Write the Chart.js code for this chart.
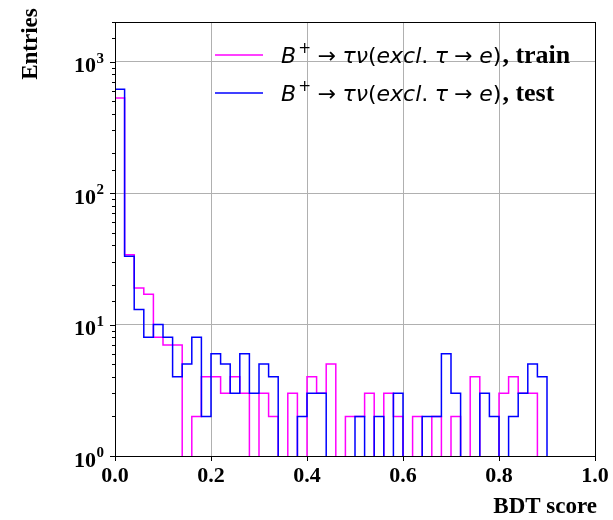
<!DOCTYPE html>
<html>
<head>
<meta charset="utf-8">
<script src="https://cdn.jsdelivr.net/npm/chart.js@4/dist/chart.umd.min.js"></script>
<style>
  html, body { margin: 0; padding: 0; background: #fff; }
  #wrap { width: 613px; height: 520px; }
</style>
</head>
<body>
<div id="wrap"><canvas id="bdtChart" width="613" height="520"></canvas></div>
<script>
// --- Data (50 bins of width 0.02) ---
const binEdges = [
  0.00, 0.02, 0.04, 0.06, 0.08, 0.10, 0.12, 0.14, 0.16, 0.18,
  0.20, 0.22, 0.24, 0.26, 0.28, 0.30, 0.32, 0.34, 0.36, 0.38,
  0.40, 0.42, 0.44, 0.46, 0.48, 0.50, 0.52, 0.54, 0.56, 0.58,
  0.60, 0.62, 0.64, 0.66, 0.68, 0.70, 0.72, 0.74, 0.76, 0.78,
  0.80, 0.82, 0.84, 0.86, 0.88, 0.90, 0.92, 0.94, 0.96, 0.98,
  1.00
];

const trainCounts = [
  528, 34, 19, 17, 8, 7, 7, 0, 2, 4,
  4, 3, 4, 3, 0, 3, 2, 0, 3, 0,
  4, 3, 5, 0, 2, 2, 3, 0, 3, 2,
  0, 2, 0, 2, 0, 2, 0, 4, 0, 0,
  3, 4, 3, 3, 0, 0, 0, 0, 0, 0
];

const testCounts = [
  615, 33, 13, 8, 10, 8, 4, 5, 8, 2,
  6, 5, 3, 6, 3, 5, 4, 0, 0, 2,
  3, 3, 0, 0, 0, 2, 0, 2, 0, 3,
  0, 0, 2, 2, 6, 3, 0, 0, 3, 2,
  0, 2, 3, 5, 4, 0, 0, 0, 0, 0
];

const xTickStep = 0.2;
const yRange = [1, 2000];
const seriesNames = ['train', 'test'];
const seriesColors = ['#ff00ff', '#0000ff'];
const xTitle = 'BDT score';
const yTitle = 'Entries';

// mathtext part of the legend label: B^+ -> tau nu (excl. tau -> e)
const processLabel = [
  { t: 'B', style: 'it' },
  { t: '+', style: 'sup', gap: 0.1 },
  { t: '\u2192', style: 'rm', gap: 0.3 },
  { t: '\u03c4\u03bd', style: 'it', gap: 0.28 },
  { t: '(', style: 'rm' },
  { t: 'excl', style: 'it' },
  { t: '.', style: 'rm' },
  { t: '\u03c4', style: 'it', gap: 0.3 },
  { t: '\u2192', style: 'rm', gap: 0.28 },
  { t: 'e', style: 'it', gap: 0.3 },
  { t: ')', style: 'rm' }
];

const SERIF = '"Liberation Serif", "Times New Roman", serif';
const MATH_FONT = '"DejaVu Sans"';

// zero-count bins are pushed below the log axis so clipping hides them (as in matplotlib)
const BELOW_AXIS = 0.1;

function stepPoints(counts) {
  const pts = [{ x: binEdges[0], y: BELOW_AXIS }];
  counts.forEach((c, i) => pts.push({ x: binEdges[i], y: c > 0 ? c : BELOW_AXIS }));
  pts.push({ x: binEdges[binEdges.length - 1], y: BELOW_AXIS });
  return pts;
}

const isDecade = v => Math.abs(Math.log10(v) - Math.round(Math.log10(v))) < 1e-9;

// Axis frame, y ticks with superscripts, axis titles and the legend
const mplDecor = {
  id: 'mplDecor',
  afterDatasetsDraw(chart) {
    const { ctx, chartArea: a, scales: { y } } = chart;
    ctx.save();

    // spines
    ctx.strokeStyle = '#000';
    ctx.lineWidth = 1;
    ctx.strokeRect(Math.round(a.left) + 0.5, Math.round(a.top) + 0.5,
      Math.round(a.right - a.left), Math.round(a.bottom - a.top));

    // y ticks: major + minor, outward
    y.ticks.forEach(t => {
      const py = Math.round(y.getPixelForValue(t.value)) + 0.5;
      const len = isDecade(t.value) ? 5 : 3;
      ctx.beginPath();
      ctx.moveTo(a.left, py);
      ctx.lineTo(a.left - len, py);
      ctx.stroke();
    });

    // y tick labels 10^n
    ctx.fillStyle = '#000';
    ctx.textAlign = 'right';
    ctx.textBaseline = 'alphabetic';
    y.ticks.filter(t => isDecade(t.value)).forEach(t => {
      const py = y.getPixelForValue(t.value);
      const exp = String(Math.round(Math.log10(t.value)));
      const xr = a.left - 11;
      ctx.font = `bold 15px ${SERIF}`;
      ctx.fillText(exp, xr, py + 1);
      const ew = ctx.measureText(exp).width;
      ctx.font = `bold 22px ${SERIF}`;
      ctx.fillText('10', xr - ew - 0.5, py + 10.5);
    });

    // axis titles
    ctx.font = `bold 23px ${SERIF}`;
    ctx.textAlign = 'right';
    ctx.fillText(xTitle, 597, 513);
    ctx.save();
    ctx.translate(37, 44);
    ctx.rotate(-Math.PI / 2);
    ctx.textAlign = 'center';
    ctx.fillText(yTitle, 0, 0);
    ctx.restore();

    // legend
    const size = 22;
    seriesNames.forEach((name, k) => {
      const base = 63 + k * 38;
      ctx.strokeStyle = seriesColors[k];
      ctx.lineWidth = 1.5;
      ctx.beginPath();
      ctx.moveTo(215, base - 8);
      ctx.lineTo(263, base - 8);
      ctx.stroke();

      let x = 281;
      ctx.textAlign = 'left';
      ctx.fillStyle = '#000';
      processLabel.forEach(seg => {
        x += (seg.gap || 0) * size;
        let dy = 0;
        if (seg.style === 'it') ctx.font = `italic ${size}px ${MATH_FONT}`;
        else if (seg.style === 'sup') { ctx.font = `${size * 0.7}px ${MATH_FONT}`; dy = -0.45 * size; }
        else ctx.font = `${size}px ${MATH_FONT}`;
        ctx.fillText(seg.t, x, base + dy);
        x += ctx.measureText(seg.t).width;
      });
      ctx.font = `bold 26px ${SERIF}`;
      ctx.fillText(', ' + name, x + 1, base);
    });

    ctx.restore();
  }
};

new Chart(document.getElementById('bdtChart'), {
  type: 'line',
  data: {
    datasets: [
      {
        label: seriesNames[0],
        data: stepPoints(trainCounts),
        borderColor: seriesColors[0],
        borderWidth: 1.5,
        stepped: true,
        pointRadius: 0,
        fill: false,
        order: 1
      },
      {
        label: seriesNames[1],
        data: stepPoints(testCounts),
        borderColor: seriesColors[1],
        borderWidth: 1.5,
        stepped: true,
        pointRadius: 0,
        fill: false,
        order: 0
      }
    ]
  },
  options: {
    responsive: false,
    animation: false,
    devicePixelRatio: 1,
    layout: { padding: { left: 0, right: 18, top: 22, bottom: 0 } },
    plugins: {
      legend: { display: false },
      tooltip: { enabled: false }
    },
    scales: {
      x: {
        type: 'linear',
        min: 0,
        max: 1,
        afterFit: s => { s.height = 64; },
        border: { display: false },
        grid: { color: '#b0b0b0', lineWidth: 1, tickColor: '#000', tickLength: 5, drawTicks: true },
        ticks: {
          stepSize: xTickStep,
          maxRotation: 0,
          padding: 2,
          color: '#000',
          font: { family: SERIF, size: 22, weight: 'bold' },
          callback: v => v.toFixed(1)
        }
      },
      y: {
        type: 'logarithmic',
        min: yRange[0],
        max: yRange[1],
        afterFit: s => { s.width = 115; },
        border: { display: false },
        grid: {
          drawTicks: false,
          lineWidth: 1,
          color: c => (c.tick && isDecade(c.tick.value)) ? '#b0b0b0' : 'rgba(0,0,0,0)'
        },
        ticks: { autoSkip: false, callback: () => '' }
      }
    }
  },
  plugins: [mplDecor]
});
</script>
</body>
</html>
